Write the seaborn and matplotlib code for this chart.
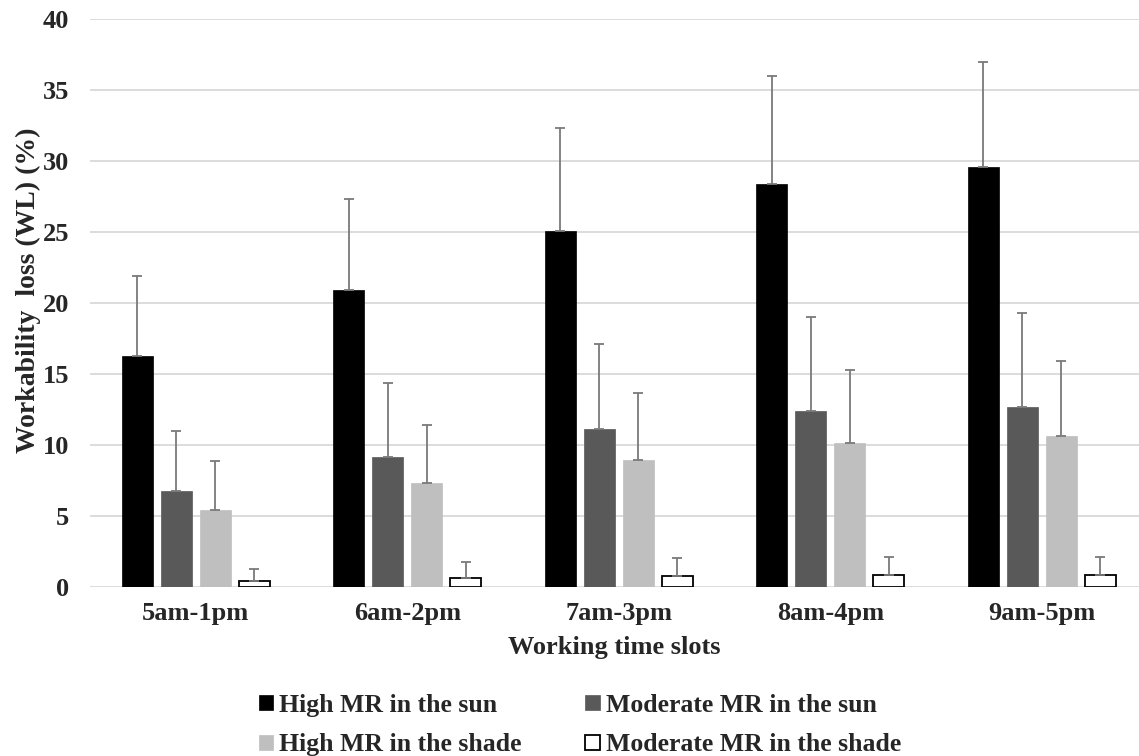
import pandas as pd
import seaborn as sns
import matplotlib.pyplot as plt

sns.set_style('white')
plt.rcParams['font.family'] = ['Liberation Serif', 'DejaVu Serif']
plt.rcParams['font.weight'] = 'bold'

slots = ["5am-1pm", "6am-2pm", "7am-3pm", "8am-4pm", "9am-5pm"]
series = ["High MR in the sun", "Moderate MR in the sun",
          "High MR in the shade", "Moderate MR in the shade"]

high_sun = [16.25, 20.9, 25.1, 28.4, 29.6]
mod_sun = [6.74, 9.15, 11.16, 12.39, 12.67]
high_shade = [5.39, 7.33, 8.96, 10.14, 10.64]
mod_shade = [0.45, 0.66, 0.78, 0.87, 0.87]

high_sun_err = [5.65, 6.4, 7.2, 7.55, 7.4]
mod_sun_err = [4.23, 5.18, 5.94, 6.6, 6.63]
high_shade_err = [3.45, 4.09, 4.7, 5.16, 5.26]
mod_shade_err = [0.85, 1.07, 1.23, 1.21, 1.26]

colors = ["#000000", "#595959", "#bfbfbf", "#ffffff"]

values = [high_sun, mod_sun, high_shade, mod_shade]
errors = [high_sun_err, mod_sun_err, high_shade_err, mod_shade_err]

rows = []
for name, vals in zip(series, values):
    for slot, v in zip(slots, vals):
        rows.append({"slot": slot, "series": name, "value": v})
df = pd.DataFrame(rows)

fig = plt.figure(figsize=(11.39, 7.56), dpi=100)
ax = fig.add_axes([0.079, 0.2235, 0.921, 0.7515])

sns.barplot(data=df, x="slot", y="value", hue="series", order=slots,
            hue_order=series, palette=colors, width=0.737, gap=0.2,
            ax=ax, legend=False, zorder=2)

bar_conts = list(ax.containers)
handles = [cont.patches[0] for cont in bar_conts]

for cont, col, err in zip(bar_conts, colors, errors):
    xs = []
    ys = []
    for bar in cont:
        if col == "#ffffff":
            bar.set_edgecolor("black")
            bar.set_linewidth(1.3)
        else:
            bar.set_edgecolor(col)
            bar.set_linewidth(0.5)
        xs.append(bar.get_x() + bar.get_width() / 2)
        ys.append(bar.get_height())
    ax.errorbar(xs, ys, yerr=[[0] * len(err), err], fmt="none",
                ecolor="#7a7a7a", elinewidth=1.3, capsize=3.5,
                capthick=1.3, zorder=3)

ax.set_ylim(0, 40)
ax.set_xlim(-0.5, 4.46)
ax.set_yticks(range(0, 41, 5))
ax.yaxis.grid(True, color="#d9d9d9", linewidth=1.3, zorder=0)
ax.set_axisbelow(True)
sns.despine(ax=ax, left=True, bottom=True)
ax.tick_params(axis="both", length=0, labelsize=19)
ax.tick_params(axis="y", pad=15)
ax.tick_params(axis="x", pad=11)

ax.set_xlabel("Working time slots", fontsize=19, fontweight="bold", labelpad=8)
ax.set_ylabel("Workability  loss (WL) (%)", fontsize=20, fontweight="bold")
ax.yaxis.set_label_coords(-0.047, 0.523)

order = [0, 2, 1, 3]
ax.legend([handles[i] for i in order], [series[i] for i in order], ncol=2,
          loc="center", bbox_to_anchor=(0.509, 0.041),
          bbox_transform=fig.transFigure, frameon=False, fontsize=18.5,
          handlelength=0.55, handleheight=0.55, handletextpad=0.23,
          columnspacing=2.5, labelspacing=0.65)

fig.savefig("out.png", dpi=100)
